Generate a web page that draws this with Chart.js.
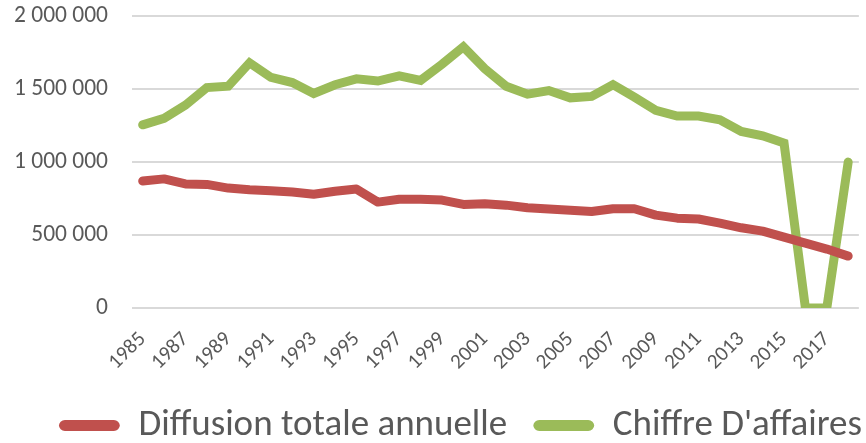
<!DOCTYPE html>
<html><head><meta charset="utf-8">
<script src="https://cdn.jsdelivr.net/npm/chart.js@4"></script>
<style>html,body{margin:0;padding:0;background:#fff}#wrap{width:866px;height:443px}</style>
</head><body><div id="wrap"><canvas id="c" width="866" height="443"></canvas></div>
<script>
const years = [1985,1986,1987,1988,1989,1990,1991,1992,1993,1994,1995,1996,1997,1998,1999,2000,2001,2002,2003,2004,2005,2006,2007,2008,2009,2010,2011,2012,2013,2014,2015,2016,2017,2018];
const diffusion = [870000,885000,850000,847000,822000,810000,803000,795000,780000,800000,815000,726000,745000,745000,740000,710000,715000,705000,687000,678000,670000,662000,680000,680000,637000,616000,610000,582000,550000,527000,486000,445000,404000,356000];
const chiffre = [1255000,1300000,1390000,1510000,1520000,1680000,1580000,1545000,1470000,1530000,1570000,1555000,1590000,1560000,1670000,1790000,1640000,1520000,1465000,1490000,1440000,1450000,1530000,1445000,1355000,1315000,1315000,1290000,1210000,1180000,1130000,0,0,1000000];
const seriesNames = ["Diffusion totale annuelle","Chiffre D'affaires"];
const yTicks = [0,500000,1000000,1500000,2000000];

const fmt = v => String(v).replace(/\B(?=(\d{3})+(?!\d))/g, ' ');
const FONT = "Carlito, Lato, 'Liberation Sans', sans-serif";
const LEGEND_SHIFT = {x: 22, y: 6};
const legendShift = {
  id: 'legendShift',
  afterLayout(chart) {
    const l = chart.legend;
    if (!l) return;
    l.left += LEGEND_SHIFT.x; l.right += LEGEND_SHIFT.x;
    l.top += LEGEND_SHIFT.y; l.bottom += LEGEND_SHIFT.y;
  }
};
new Chart(document.getElementById('c'), {
  type: 'line',
  plugins: [legendShift],
  data: {
    labels: years,
    datasets: [
      {label: seriesNames[0], data: diffusion, borderColor:'#C0504D', backgroundColor:'#C0504D', borderWidth:9, pointRadius:0, tension:0, borderCapStyle:'round', borderJoinStyle:'round'},
      {label: seriesNames[1], data: chiffre, borderColor:'#9BBB59', backgroundColor:'#9BBB59', borderWidth:9, pointRadius:0, tension:0, borderCapStyle:'round', borderJoinStyle:'miter'}
    ]
  },
  options: {
    responsive:false, animation:false, devicePixelRatio:1,
    layout:{padding:{top:0,right:0,left:0,bottom:-5}},
    scales:{
      x:{offset:true, grid:{display:false, drawTicks:true, tickLength:19}, border:{display:false},
         ticks:{autoSkip:false, minRotation:45, maxRotation:45, padding:0, color:'#595959', font:{family:FONT,size:21},
           callback:function(v,i){return i%2===0 ? this.getLabelForValue(v) : '';}}},
      y:{min:0,max:2000000, afterBuildTicks: ax => {ax.ticks = yTicks.map(v=>({value:v}));},
         afterFit: s => { s.width += 12; },
         grid:{color:'#d9d9d9', lineWidth:2, drawTicks:true, tickLength:22, tickColor:'rgba(0,0,0,0)'}, border:{display:false},
         ticks:{padding:2, color:'#595959', font:{family:FONT,size:23.5}, callback:v=>fmt(v)}}
    },
    plugins:{
      tooltip:{enabled:false},
      legend:{position:'bottom', align:'end', labels:{color:'#595959', font:{family:FONT,size:37}, boxWidth:61, boxHeight:11, padding:26, useBorderRadius:true, borderRadius:6,
        generateLabels: chart => chart.data.datasets.map((d,i)=>({text:d.label, fillStyle:d.borderColor, strokeStyle:d.borderColor, lineWidth:0, borderRadius:6, datasetIndex:i, fontColor:'#595959'}))}}
    }
  }
});
</script></body></html>
